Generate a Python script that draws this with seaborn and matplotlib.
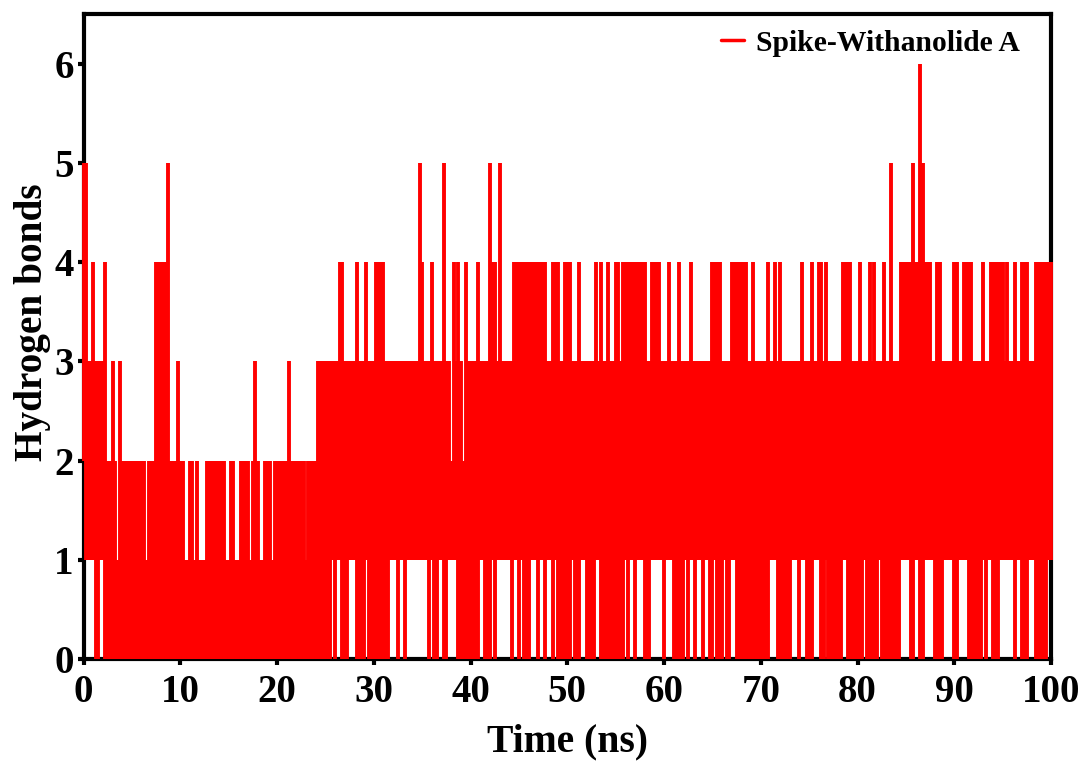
import numpy as np
import pandas as pd
import matplotlib
matplotlib.use("Agg")
import matplotlib.pyplot as plt
from matplotlib.lines import Line2D
import seaborn as sns

# values, one frame every 0.25 ns, four per ns on each row
# top = highest bond count reached in that frame, low = lowest
top_00_10 = [5,5,3,3, 4,3,3,3, 3,4,2,2, 3,2,1,3, 2,2,2,2, 2,2,2,2, 2,2,1,2, 2,2,4,4, 4,4,4,5, 2,2,2,3]
top_10_20 = [2,2,1,1, 2,2,1,2, 1,1,1,2, 2,2,2,2, 2,2,2,1, 1,2,2,1, 1,2,2,2, 2,1,2,3, 2,1,1,2, 2,2,1,2]
top_20_30 = [2,2,2,2, 2,3,2,2, 2,2,2,2, 1,2,2,2, 2,3,3,3, 3,3,3,3, 3,3,4,4, 3,3,3,3, 3,4,3,3, 3,4,3,3]
top_30_40 = [3,4,4,4, 4,3,3,3, 3,3,3,3, 3,3,3,3, 3,3,3,5, 4,3,3,3, 4,3,3,3, 3,5,3,3, 2,4,3,4, 3,2,4,3]
top_40_50 = [3,3,3,4, 3,3,3,3, 5,4,4,3, 5,3,3,3, 3,3,4,4, 4,4,4,4, 4,4,4,4, 4,4,4,4, 3,3,4,4, 4,3,3,4]
top_50_60 = [4,4,3,3, 3,4,3,3, 3,3,3,3, 4,3,4,3, 3,4,3,3, 4,4,3,4, 4,4,4,4, 4,4,4,4, 4,3,3,4, 4,4,4,3]
top_60_70 = [3,3,4,3, 3,3,4,3, 3,3,3,4, 3,3,3,3, 3,3,3,3, 4,4,4,4, 3,3,3,3, 4,4,4,4, 4,4,4,3, 3,4,3,3]
top_70_80 = [3,3,3,4, 3,3,4,3, 4,3,3,3, 3,3,3,3, 3,4,3,3, 3,4,3,3, 4,4,3,4, 3,3,3,3, 3,3,4,4, 4,4,3,3]
top_80_90 = [3,4,3,3, 3,4,3,4, 3,3,3,4, 3,3,5,3, 3,3,4,4, 4,4,4,5, 4,4,6,5, 4,4,4,3, 3,4,4,3, 3,3,3,3]
top_90_100 = [4,4,3,3, 4,4,4,4, 3,3,3,3, 4,3,3,4, 4,4,4,4, 4,3,4,3, 3,4,3,3, 4,4,4,3, 3,3,4,4, 4,4,4,4, 4]

low_00_10 = [2,1,1,1, 1,0,0,1, 1,0,0,0, 0,0,0,0, 0,0,0,0, 0,0,0,0, 0,0,0,0, 0,0,0,0, 0,0,0,0, 0,0,0,0]
low_10_20 = [0,0,0,0, 0,0,0,0, 0,0,0,0, 0,0,0,0, 0,0,0,0, 0,0,0,0, 0,0,0,0, 0,0,0,0, 0,0,0,0, 0,0,0,0]
low_20_30 = [0,0,0,0, 0,0,0,0, 0,0,0,0, 0,0,0,0, 0,0,0,0, 0,0,0,1, 0,1,1,0, 0,0,1,1, 1,0,0,0, 0,1,0,0]
low_30_40 = [0,0,0,0, 0,0,0,1, 1,1,0,1, 1,0,1,1, 1,1,1,1, 1,1,1,0, 1,0,0,1, 1,0,0,1, 1,1,1,0, 0,0,0,0]
low_40_50 = [0,0,0,0, 1,1,0,0, 0,1,0,1, 1,1,1,1, 1,0,1,1, 0,1,0,0, 0,1,1,1, 0,1,1,0, 1,1,0,1, 0,0,0,0]
low_50_60 = [0,0,1,0, 0,0,1,1, 0,0,0,0, 1,1,0,0, 0,0,0,0, 0,0,0,0, 1,0,1,1, 0,1,1,1, 0,0,0,1, 1,1,1,1]
low_60_70 = [0,1,1,1, 0,0,0,0, 0,1,0,1, 1,0,1,1, 0,1,1,0, 0,1,0,0, 0,1,0,0, 1,1,0,0, 0,0,0,0, 0,0,0,0]
low_70_80 = [0,0,0,0, 1,1,1,0, 0,0,0,0, 0,1,1,1, 0,1,1,0, 0,0,1,1, 1,0,0,1, 0,0,0,0, 0,0,1,1, 0,0,0,0]
low_80_90 = [0,0,0,1, 0,0,0,0, 0,1,0,0, 0,0,0,0, 0,0,1,1, 1,1,0,0, 1,1,0,0, 1,1,1,1, 0,0,0,0, 1,1,1,1]
low_90_100 = [0,0,1,1, 1,1,0,0, 0,0,0,0, 1,0,1,1, 0,0,0,1, 1,1,1,1, 1,0,1,1, 0,0,0,1, 1,1,0,0, 0,0,0,1, 1]

x_ticks = [0, 10, 20, 30, 40, 50, 60, 70, 80, 90, 100]
y_ticks = [0, 1, 2, 3, 4, 5, 6]
series_name = "Spike-Withanolide A"

hb_top = top_00_10 + top_10_20 + top_20_30 + top_30_40 + top_40_50 + top_50_60 + top_60_70 + top_70_80 + top_80_90 + top_90_100
hb_low = low_00_10 + low_10_20 + low_20_30 + low_30_40 + low_40_50 + low_50_60 + low_60_70 + low_70_80 + low_80_90 + low_90_100
assert len(hb_top) == 401 and len(hb_low) == 401

wide = pd.DataFrame({"frame": np.arange(401), "time": np.arange(401) * 0.25, "top": hb_top, "low": hb_low})
df = wide.melt(id_vars=["frame", "time"], value_vars=["top", "low"], value_name="hbonds")

sns.set_theme(style="ticks", rc={"text.color": "black", "axes.labelcolor": "black"})
plt.rcParams["font.family"] = ["Liberation Serif", "DejaVu Serif"]
plt.rcParams["font.weight"] = "bold"

fig = plt.figure(figsize=(10.83, 7.61), dpi=100)
ax = fig.add_axes([83.5 / 1083, 1 - 659 / 761, (1051 - 83.5) / 1083, (659 - 14) / 761])

# one vertical stroke per frame, so no slanted joins across the white gaps
sns.lineplot(data=df, x="time", y="hbonds", units="frame", estimator=None, color="#ff0000",
             linewidth=2.8, solid_capstyle="butt", legend=False, ax=ax, clip_on=False, zorder=3)

ax.set_xlim(0, 100)
ax.set_ylim(0, 6.5)
ax.set_xticks(x_ticks)
ax.set_yticks(y_ticks)
ax.set_xlabel("Time (ns)", fontsize=28.5, fontweight="bold", color="black")
ax.set_ylabel("Hydrogen bonds", fontsize=28.3, fontweight="bold", color="black")
ax.xaxis.set_label_coords(0.5, -0.1)
ax.yaxis.set_label_coords(-0.0335, 0.522)
ax.tick_params(axis="both", labelsize=28, length=4, width=3, color="black", labelcolor="black")
ax.tick_params(axis="x", pad=7)
ax.tick_params(axis="y", pad=3)
for side in ax.spines:
    ax.spines[side].set_visible(True)
    ax.spines[side].set_linewidth(3)
    ax.spines[side].set_color("black")

handle = Line2D([], [], color="#ff0000", linewidth=2.5)
ax.legend([handle], [series_name], loc="upper right", frameon=False, fontsize=21.3,
          handlelength=0.78, handletextpad=0.4, borderaxespad=0, bbox_to_anchor=(0.9804, 0.994),
          labelcolor="black")

plt.savefig("out.png", dpi=100)
plt.close()
